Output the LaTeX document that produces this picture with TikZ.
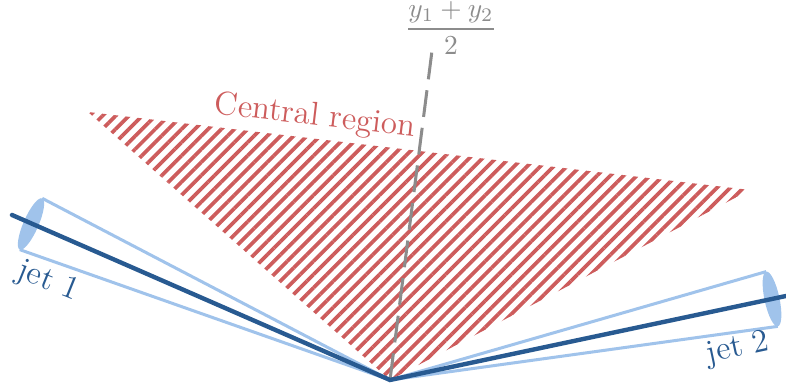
\documentclass[tikz,border=0pt]{standalone}
\usepackage{tikz}
\usepackage{amsmath}
\definecolor{jetblue}{RGB}{40, 90, 145}
\definecolor{conelight}{RGB}{160, 195, 235}
\definecolor{regionred}{RGB}{205, 92, 92}
\definecolor{axisgray}{RGB}{140, 140, 140}
\usetikzlibrary{patterns.meta, calc}

\begin{document}
\begin{tikzpicture}[
    x=0.0128cm, y=0.0128cm,
    jetline/.style={draw=jetblue, line width=1.6pt, line cap=round},
    coneedge/.style={draw=conelight, line width=1.1pt},
    conecap/.style={fill=conelight},
    region/.style={pattern={Lines[angle=45, distance=3.4pt, line width=1.35pt]},
                   pattern color=regionred},
    midline/.style={draw=axisgray, line width=1.1pt, dash pattern=on 9.8pt off 4pt},
    jetlabel/.style={text=jetblue, font=\large}
]
    \useasboundingbox (0,0) rectangle (786,390);
    % Points
    \coordinate (vtx) at (390,10);
    \coordinate (jetA) at (12,175);
    \coordinate (jetB) at (786,94);
    \coordinate (capA) at (31,166);
    \coordinate (capB) at (772,91);
    \coordinate (regL) at (88,278);
    \coordinate (regR) at (750,200);
    \coordinate (midtop) at (433,347);

    % Central region
    \fill[region] (regL) -- (regR) -- (vtx) -- cycle;
    \node[text=regionred, font=\large, rotate=-6.7] (reglabel) at (315,273) {Central region};

    % Average rapidity
    \draw[midline] (vtx) -- (midtop);
    \node[text=axisgray, inner sep=1pt] (avglabel) at (451,362) {$\dfrac{y_1+y_2}{2}$};

    % Cones
    \draw[coneedge] ($(capA)+(66.4:28)$) -- (vtx) -- ($(capA)+(246.4:28)$);
    \fill[conecap, rotate around={-23.6:(capA)}] (capA) ellipse (7.5 and 28);
    \draw[coneedge] ($(capB)+(102:28)$) -- (vtx) -- ($(capB)+(282:28)$);
    \fill[conecap, rotate around={12:(capB)}] (capB) ellipse (7.5 and 28);

    % Jets
    \draw[jetline] (jetA) -- (vtx) -- (jetB);
    \node[jetlabel, rotate=-22] (labA) at (48,108) {jet 1};
    \node[jetlabel, rotate=12] (labB) at (738,41) {jet 2};
\end{tikzpicture}
\end{document}
